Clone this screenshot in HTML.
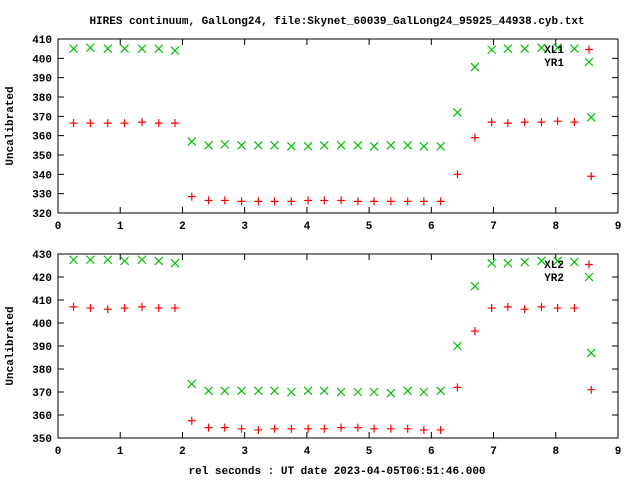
<!DOCTYPE html>
<html><head><meta charset="utf-8"><style>
body{margin:0;background:#fff}
svg text{font-family:"Liberation Mono",monospace;font-size:11px;font-weight:bold;fill:#000}
</style></head><body>
<svg id="c" width="640" height="480" xmlns="http://www.w3.org/2000/svg">
<text x="337" y="24" text-anchor="middle">HIRES continuum, GalLong24, file:Skynet_60039_GalLong24_95925_44938.cyb.txt</text>
<text x="337" y="474" text-anchor="middle">rel seconds : UT date 2023-04-05T06:51:46.000</text>
</svg>
<script>
const xs=[0.25,0.52,0.8,1.07,1.35,1.62,1.88,2.15,2.42,2.68,2.95,3.22,3.48,3.75,4.02,4.28,4.55,4.82,5.08,5.35,5.62,5.88,6.15,6.42,6.7,6.97,7.23,7.5,7.77,8.03,8.3,8.57];
const xl1=[366.5,366.5,366.5,366.5,367,366.5,366.5,328.5,326.5,326.5,326,326,326,326,326.5,326.5,326.5,326,326,326,326,326,326,340,359,367,366.5,367,367,367.5,367,339];
const yr1=[405,405.5,405,405,405,405,404,357,355,355.5,355,355,355,354.5,354.5,355,355,355,354.5,355,355,354.5,354.5,372,395.5,404.5,405,405,405.5,405.5,405,369.5];
const xl2=[407,406.5,406,406.5,407,406.5,406.5,357.5,354.5,354.5,354,353.5,354,354,354,354,354.5,354.5,354,354,354,353.5,353.5,372,396.5,406.5,407,406,407,406.5,406.5,371];
const yr2=[427.5,427.5,427.5,427,427.5,427,426,373.5,370.5,370.5,370.5,370.5,370.5,370,370.5,370.5,370,370,370,369.5,370.5,370,370.5,390,416,426,426,426.5,427,427,426.5,387];
const xTicks=[0,1,2,3,4,5,6,7,8,9];
const yTicks1=[320,330,340,350,360,370,380,390,400,410];
const yTicks2=[350,360,370,380,390,400,410,420,430];
const NS="http://www.w3.org/2000/svg";
const svg=document.getElementById('c');
const L=58,R=618;
function X(v){return L+(v-0)/(9-0)*(R-L);}
function mk(t,a){const e=document.createElementNS(NS,t);for(const k in a)e.setAttribute(k,a[k]);svg.appendChild(e);return e;}
function plus(x,y,c){return mk('path',{d:`M${x-4},${y}h8M${x},${y-4}v8`,stroke:c,'stroke-width':1.2,fill:'none'});}
function cross(x,y,c){return mk('path',{d:`M${x-4},${y-4}l8,8M${x-4},${y+4}l8,-8`,stroke:c,'stroke-width':1.2,fill:'none'});}
function panel(top,bot,ymin,ymax,yt,s1,s2,n1,n2,idx){
  const Y=v=>bot-(v-ymin)/(ymax-ymin)*(bot-top);
  const f=mk('rect',{x:L,y:top,width:R-L,height:bot-top,fill:'none',stroke:'#000','stroke-width':1});
  
  
  yt.forEach(v=>{const y=Y(v);
    const t=mk('path',{d:`M${L},${y}h6M${R},${y}h-6`,stroke:'#000'});
    
    
    const l=mk('text',{x:L-6,y:y+4,'text-anchor':'end'});l.textContent=v;
    
    });
  xTicks.forEach(v=>{const x=X(v);
    const t=mk('path',{d:`M${x},${bot}v-6M${x},${top}v6`,stroke:'#000'});
    
    
    const l=mk('text',{x:x,y:bot+16,'text-anchor':'middle'});l.textContent=v;
    
    });
  const yl=mk('text',{x:0,y:0,'text-anchor':'middle',transform:`translate(13,${(top+bot)/2}) rotate(-90)`});yl.textContent='Uncalibrated';
  
  
  xs.forEach((x,i)=>{
    const p=plus(X(x),Y(s1[i]),'#ff0000');
    
    
    const q=cross(X(x),Y(s2[i]),'#00c000');
    
    
  });
  const t1=mk('text',{x:564,y:top+14,'text-anchor':'end'});t1.textContent=n1;
  
  
  const p1=plus(589,top+10.5,'#ff0000');
  
  
  const t2=mk('text',{x:564,y:top+27,'text-anchor':'end'});t2.textContent=n2;
  
  
  const p2=cross(589,top+23,'#00c000');
  
  
}
panel(39,213,320,410,yTicks1,xl1,yr1,'XL1','YR1',1);
panel(254,438,350,430,yTicks2,xl2,yr2,'XL2','YR2',2);
</script>
</body></html>
